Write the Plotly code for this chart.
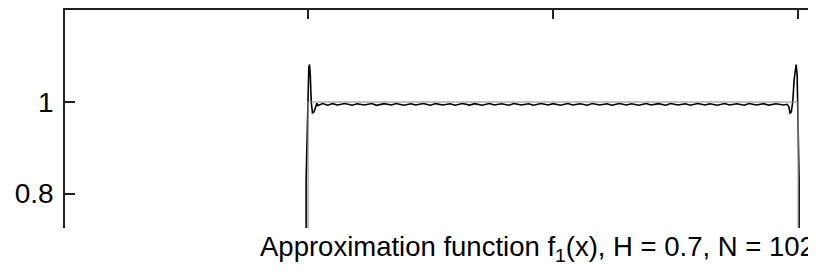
import plotly.graph_objects as go

# Exact function (gray): indicator of [0, 2]
exact_x = [-1.0, 0.0, 0.0, 2.0, 2.0, 2.2]
exact_y = [0.0, 0.0, 1.0, 1.0, 0.0, 0.0]

# Approximation (black): Gibbs overshoot near jumps, small ripple in between
left_x = [-1.0, -0.008, -0.008, -0.004, 0.003, 0.006, 0.009, 0.013, 0.018, 0.024, 0.030, 0.036]
left_y = [0.0, 0.0, 0.83, 0.95, 1.075, 1.082, 1.06, 1.0, 0.976, 0.978, 0.990, 0.997]

flat_x = [0.04, 0.06, 0.08, 0.10, 0.12, 0.15, 0.18, 0.20, 0.23, 0.26, 0.28, 0.31, 0.34, 0.36,
          0.39, 0.42, 0.44, 0.47, 0.50, 0.52, 0.55, 0.58, 0.60, 0.63, 0.66, 0.68, 0.71, 0.74,
          0.76, 0.79, 0.82, 0.84, 0.87, 0.90, 0.92, 0.95, 0.98, 1.00, 1.03, 1.06, 1.08, 1.11,
          1.14, 1.16, 1.19, 1.22, 1.24, 1.27, 1.30, 1.32, 1.35, 1.38, 1.40, 1.43, 1.46, 1.48,
          1.51, 1.54, 1.56, 1.59, 1.62, 1.64, 1.67, 1.70, 1.72, 1.75, 1.78, 1.80, 1.83, 1.86,
          1.88, 1.91, 1.94, 1.955]
flat_y = [0.9925, 0.9965, 0.9930, 0.9965, 0.9935, 0.9968, 0.9930, 0.9962, 0.9935, 0.9967, 0.9928, 0.9964, 0.9936, 0.9966,
          0.9931, 0.9963, 0.9934, 0.9967, 0.9929, 0.9965, 0.9936, 0.9962, 0.9930, 0.9966, 0.9933, 0.9964, 0.9929, 0.9967,
          0.9935, 0.9963, 0.9930, 0.9966, 0.9934, 0.9962, 0.9929, 0.9967, 0.9935, 0.9964, 0.9931, 0.9966, 0.9934, 0.9963,
          0.9930, 0.9967, 0.9935, 0.9963, 0.9929, 0.9966, 0.9934, 0.9962, 0.9930, 0.9967, 0.9935, 0.9964, 0.9931, 0.9966,
          0.9934, 0.9963, 0.9930, 0.9967, 0.9935, 0.9963, 0.9929, 0.9966, 0.9934, 0.9962, 0.9930, 0.9967, 0.9935, 0.9964,
          0.9931, 0.9962, 0.9935, 0.9950]

right_x = [1.962, 1.967, 1.972, 1.978, 1.984, 1.989, 1.992, 1.996, 2.004, 2.004, 2.2]
right_y = [0.990, 0.976, 0.978, 1.0, 1.05, 1.075, 1.082, 1.06, 0.83, 0.0, 0.0]

approx_x = left_x + flat_x + right_x
approx_y = left_y + flat_y + right_y

x_ticks = [-1, 0, 1, 2]
y_ticks = [0.8, 1]
y_tick_labels = ["0.8", "1"]

title_text = "Approximation function f<sub>1</sub>(x), H = 0.7, N = 1024"

FONT = "Liberation Sans, Arial, sans-serif"

fig = go.Figure()
fig.add_trace(go.Scatter(x=approx_x, y=approx_y, mode="lines",
                         line=dict(color="#000000", width=1.6), hoverinfo="skip"))
fig.add_trace(go.Scatter(x=exact_x, y=exact_y, mode="lines",
                         line=dict(color="#8c8c8c", width=1.2), hoverinfo="skip"))

fig.update_layout(
    width=808, height=267,
    margin=dict(l=57, r=0, t=2, b=47),
    paper_bgcolor="white", plot_bgcolor="white",
    showlegend=False,
    font=dict(family=FONT, size=28, color="#000000"),
    xaxis=dict(range=[-0.992, 2.073], side="top", showline=True, linecolor="#222222", linewidth=1.5,
               ticks="inside", ticklen=9, tickwidth=1.5, tickcolor="#222222",
               tickvals=x_ticks, showticklabels=False, showgrid=False, zeroline=False,
               mirror=False),
    yaxis=dict(range=[0.7246, 1.2011], showline=True, linecolor="#222222", linewidth=1.5,
               ticks="inside", ticklen=10, tickwidth=1.5, tickcolor="#222222",
               tickvals=y_ticks, ticktext=y_tick_labels, showgrid=False, zeroline=False,
               ticklabelstandoff=4),
    annotations=[dict(text=title_text, xref="paper", yref="paper", x=(250 - 57) / 751, y=-0.005,
                      xanchor="left", yanchor="top", showarrow=False,
                      font=dict(family=FONT, size=27.5, color="#000000"))],
)

fig.write_html("out.html")
